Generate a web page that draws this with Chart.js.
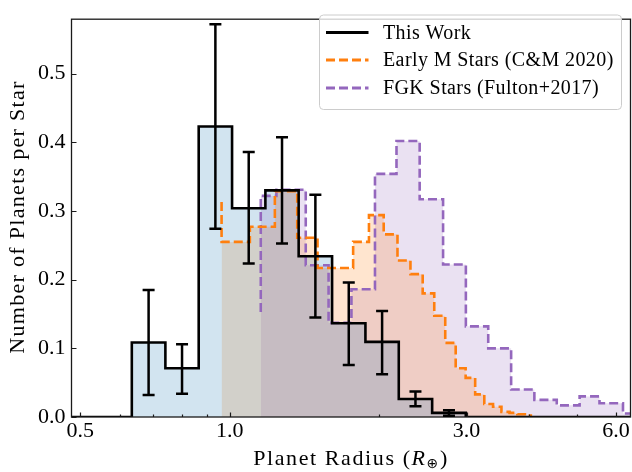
<!DOCTYPE html>
<html><head><meta charset="utf-8">
<script src="https://cdn.jsdelivr.net/npm/chart.js@4/dist/chart.umd.min.js"></script>
<style>html,body{margin:0;padding:0;background:#fff}#wrap{width:632px;height:472px}</style>
</head><body><div id="wrap"><canvas id="c" width="632" height="472"></canvas></div>
<script>
// ---- data ----
const xTickValues = [0.5, 1.0, 3.0, 6.0];
const xMinorTicks = [0.6, 0.7, 0.8, 0.9, 2.0, 4.0, 5.0];
const yTickValues = [0.0, 0.1, 0.2, 0.3, 0.4, 0.5];

const workLabel = 'This Work';
const workEdges = [0.635, 0.742, 0.866, 1.011, 1.18, 1.377, 1.608, 1.877, 2.191, 2.558, 2.99];
const workValues = [0.1085, 0.0709, 0.423, 0.304, 0.330, 0.234, 0.1366, 0.1094, 0.0263, 0.006];
const workErrLow = [0.032, 0.034, 0.274, 0.2235, 0.2525, 0.145, 0.0756, 0.0624, 0.0155, 0.002];
const workErrHigh = [0.185, 0.106, 0.572, 0.386, 0.4075, 0.3235, 0.196, 0.1545, 0.037, 0.010];

const cmLabel = 'Early M Stars (C&M 2020)';
const cmStart = 0.313;
const cmEdges = [0.963, 1.098, 1.233, 1.368, 1.503, 1.638, 1.773, 1.908, 2.043, 2.178, 2.313, 2.448,
                 2.583, 2.718, 2.853, 2.988, 3.123, 3.258, 3.393, 3.528, 3.663, 3.798, 3.933, 4.068];
const cmValues = [0.255, 0.277, 0.329, 0.261, 0.217, 0.217, 0.255, 0.294, 0.266, 0.228, 0.208, 0.18,
                  0.1475, 0.108, 0.071, 0.057, 0.033, 0.019, 0.015, 0.0075, 0.006, 0.004, 0.002];

const fgkLabel = 'FGK Stars (Fulton+2017)';
const fgkStart = 0.153;
const fgkEdges = [1.155, 1.242, 1.423, 1.582, 1.759, 1.962, 2.168, 2.414, 2.691, 2.991, 3.318, 3.69,
                  4.11, 4.56, 5.07, 5.56, 6.2, 6.9];
const fgkValues = [0.322, 0.331, 0.221, 0.137, 0.186, 0.354, 0.402, 0.317, 0.222, 0.132, 0.100, 0.040,
                   0.025, 0.017, 0.030, 0.020, 0.005];

const X_MIN = 0.48, X_MAX = 6.42, Y_MAX = 0.5793;

// ---- build step point lists ----
function stepPost(edges, values) { // matplotlib histtype='step' outline
  const pts = [{x: X_MIN * 0.9, y: 0}];
  for (let i = 0; i < values.length; i++) pts.push({x: edges[i], y: values[i]});
  pts.push({x: edges[edges.length - 1], y: 0});
  pts.push({x: X_MAX * 1.1, y: 0});
  return pts;
}
function stepPre(edges, values, start) { // plt.step(where='pre') style
  const pts = [{x: edges[0], y: start}];
  for (let i = 0; i < values.length; i++) pts.push({x: edges[i + 1], y: values[i]});
  return pts;
}

const SERIF = "'Liberation Serif', 'Times New Roman', serif";
const DASH = [9, 4];

const datasets = [
  {label: workLabel, data: stepPost(workEdges, workValues), stepped: 'before',
   borderColor: '#000000', borderWidth: 2.6, backgroundColor: 'rgba(31,119,180,0.2)', fill: 'origin',
   pointRadius: 0, order: 1, borderJoinStyle: 'miter', borderCapStyle: 'butt'},
  {label: cmLabel, data: stepPre(cmEdges, cmValues, cmStart), stepped: 'after',
   borderColor: '#ff7f0e', borderWidth: 2.6, borderDash: DASH, backgroundColor: 'rgba(255,127,14,0.2)', fill: 'origin',
   pointRadius: 0, order: 2, borderCapStyle: 'butt'},
  {label: fgkLabel, data: stepPre(fgkEdges, fgkValues, fgkStart), stepped: 'after',
   borderColor: '#9467bd', borderWidth: 2.6, borderDash: DASH, backgroundColor: 'rgba(148,103,189,0.2)', fill: 'origin',
   pointRadius: 0, order: 3, borderCapStyle: 'butt'}
];

// ---- plugins ----
const framePlugin = {
  id: 'frame',
  afterDatasetsDraw(chart) {
    const {ctx, chartArea: a, scales: {x, y}} = chart;
    ctx.save();
    ctx.strokeStyle = '#1a1a1a';
    ctx.lineWidth = 1.2;
    ctx.beginPath();
    xTickValues.forEach(v => { const px = Math.round(x.getPixelForValue(v)) + 0.5; ctx.moveTo(px, a.bottom); ctx.lineTo(px, a.bottom - 4.5); });
    xMinorTicks.forEach(v => { const px = Math.round(x.getPixelForValue(v)) + 0.5; ctx.moveTo(px, a.bottom); ctx.lineTo(px, a.bottom - 2.5); });
    yTickValues.forEach(v => { const py = Math.round(y.getPixelForValue(v)) + 0.5; ctx.moveTo(a.left, py); ctx.lineTo(a.left + 5, py); });
    ctx.stroke();
    ctx.lineWidth = 1.3;
    ctx.strokeRect(a.left, a.top, a.right - a.left, a.bottom - a.top);
    ctx.restore();
  }
};

const errPlugin = {
  id: 'errbars',
  afterDatasetsDraw(chart) {
    const {ctx, scales: {x, y}} = chart;
    ctx.save();
    ctx.strokeStyle = '#000';
    ctx.lineWidth = 2.5;
    ctx.lineCap = 'butt';
    for (let i = 0; i < workValues.length; i++) {
      const xc = x.getPixelForValue(Math.sqrt(workEdges[i] * workEdges[i + 1]));
      const yl = y.getPixelForValue(workErrLow[i]);
      const yh = y.getPixelForValue(workErrHigh[i]);
      ctx.beginPath();
      ctx.moveTo(xc, yl); ctx.lineTo(xc, yh);
      ctx.moveTo(xc - 6, yl); ctx.lineTo(xc + 6, yl);
      ctx.moveTo(xc - 6, yh); ctx.lineTo(xc + 6, yh);
      ctx.stroke();
    }
    ctx.restore();
  }
};

const textPlugin = {
  id: 'texts',
  afterDraw(chart) {
    const {ctx, chartArea: a} = chart;
    ctx.save();
    ctx.fillStyle = '#000';
    ctx.textBaseline = 'middle';
    const parts = [
      {t: 'Planet Radius (', f: `22px ${SERIF}`, dy: 0},
      {t: 'R', f: `italic 22px ${SERIF}`, dy: 0},
      {t: '\u2295', f: `14px 'DejaVu Sans'`, dy: 5},
      {t: ')', f: `22px ${SERIF}`, dy: 0}
    ];
    ctx.letterSpacing = '1.6px';
    let total = 0;
    parts.forEach(p => { ctx.font = p.f; p.w = ctx.measureText(p.t).width; total += p.w; });
    let cx = (a.left + a.right) / 2 - total / 2;
    ctx.textAlign = 'left';
    parts.forEach(p => { ctx.font = p.f; ctx.fillText(p.t, cx, 459 + p.dy); cx += p.w; });
    ctx.save();
    ctx.translate(18, 217);
    ctx.rotate(-Math.PI / 2);
    ctx.font = `22px ${SERIF}`;
    ctx.letterSpacing = '1.3px';
    ctx.textAlign = 'center';
    ctx.fillText('Number of Planets per Star', 0, 0);
    ctx.restore();

    const bx = 319.5, by = 15, bw = 302, bh = 94.5;
    ctx.beginPath();
    ctx.roundRect(bx, by, bw, bh, 4);
    ctx.fillStyle = 'rgba(255,255,255,0.8)';
    ctx.fill();
    ctx.strokeStyle = '#cccccc';
    ctx.lineWidth = 1;
    ctx.stroke();
    const rows = [32.5, 60, 88];
    chart.data.datasets.forEach((ds, i) => {
      ctx.save();
      ctx.strokeStyle = ds.borderColor;
      ctx.lineWidth = 2.8;
      ctx.setLineDash(ds.borderDash || []);
      ctx.beginPath();
      ctx.moveTo(326, rows[i]); ctx.lineTo(368.5, rows[i]);
      ctx.stroke();
      ctx.restore();
      ctx.fillStyle = '#000';
      ctx.font = `20px ${SERIF}`;
      ctx.letterSpacing = '0.4px';
      ctx.textAlign = 'left';
      ctx.fillText(ds.label, 383, rows[i] + 1);
    });
    ctx.restore();
  }
};

new Chart(document.getElementById('c'), {
  type: 'line',
  data: {datasets},
  options: {
    responsive: false, animation: false, devicePixelRatio: 1,
    layout: {padding: {top: 6, right: 1.5, left: 0, bottom: 0}},
    plugins: {legend: {display: false}, tooltip: {enabled: false}, filler: {drawTime: 'beforeDatasetsDraw'}},
    elements: {line: {tension: 0}},
    scales: {
      x: {
        type: 'logarithmic', min: X_MIN, max: X_MAX,
        afterBuildTicks: s => { s.ticks = xTickValues.map(v => ({value: v})); },
        afterFit: s => { s.height = 55; },
        ticks: {callback: v => Number(v).toFixed(1), font: {family: SERIF, size: 22}, color: '#000', padding: 1, maxRotation: 0, autoSkip: false},
        grid: {display: false, drawTicks: false}, border: {display: false}
      },
      y: {
        type: 'linear', min: 0, max: Y_MAX,
        afterBuildTicks: s => { s.ticks = yTickValues.map(v => ({value: v})); },
        afterFit: s => { s.width = 71.5; },
        ticks: {callback: v => Number(v).toFixed(1), font: {family: SERIF, size: 22}, color: '#000', padding: 6},
        grid: {display: false, drawTicks: false}, border: {display: false}
      }
    }
  },
  plugins: [framePlugin, errPlugin, textPlugin]
});
</script></body></html>
